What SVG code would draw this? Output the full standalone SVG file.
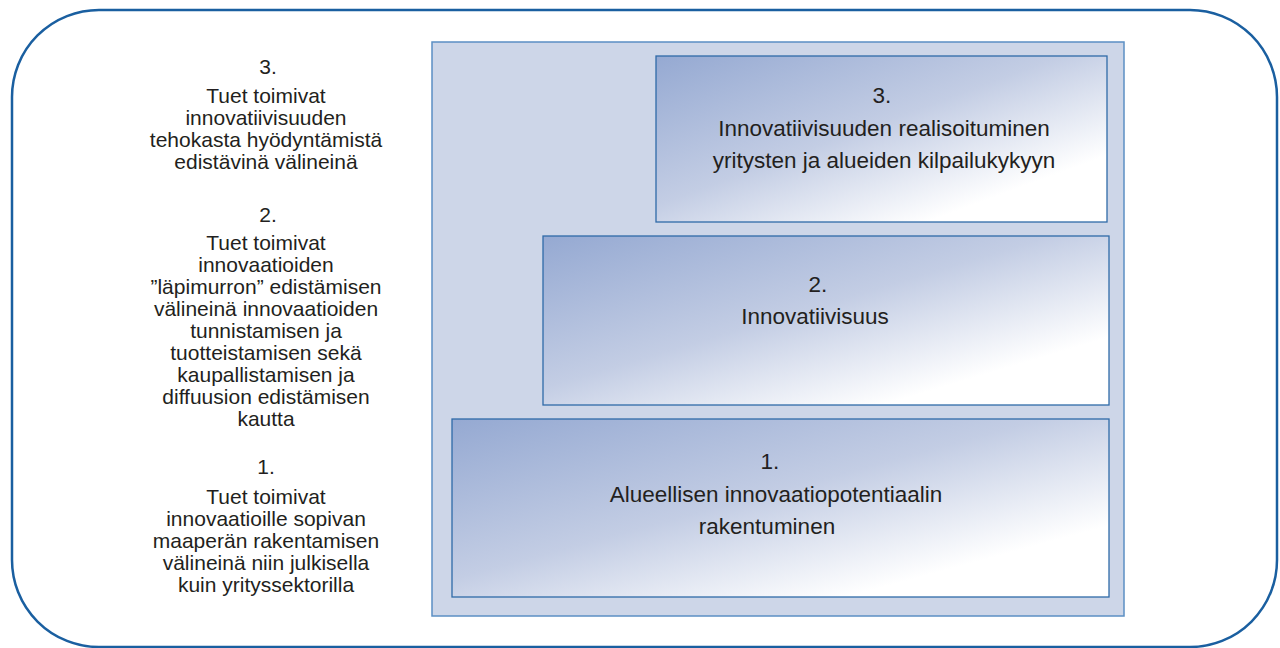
<svg xmlns="http://www.w3.org/2000/svg" width="1280" height="648" viewBox="0 0 1280 648">
<defs>
<linearGradient id="g" x1="0" y1="0" x2="1" y2="1">
<stop offset="0" stop-color="#95a9d2"/>
<stop offset="0.45" stop-color="#c3cde4"/>
<stop offset="0.8" stop-color="#ffffff"/>
<stop offset="1" stop-color="#ffffff"/>
</linearGradient>
<style>
text{font-family:"Liberation Sans",Arial,sans-serif;fill:#231f20;text-anchor:middle}
.l{font-size:21px}
.b{font-size:22.5px}
.box{fill:url(#g);stroke:#2f6aa8;stroke-width:1.3}
</style>
</defs>
<rect id="frame" x="12" y="10" width="1265" height="637" rx="87" ry="87" fill="#ffffff" stroke="#1a5fa0" stroke-width="2.5"/>
<rect id="panel" x="432" y="42" width="692" height="574" fill="#cdd6e8" stroke="#5b8fc4" stroke-width="1.5"/>
<g id="box3">
<rect class="box" x="656" y="56" width="451" height="166"/>
<text class="b" x="882" y="103">3.</text>
<text class="b" x="884" y="136">Innovatiivisuuden realisoituminen</text>
<text class="b" x="884" y="168">yritysten ja alueiden kilpailukykyyn</text>
</g>
<g id="box2">
<rect class="box" x="543" y="236" width="566" height="169"/>
<text class="b" x="818" y="292">2.</text>
<text class="b" x="815" y="324">Innovatiivisuus</text>
</g>
<g id="box1">
<rect class="box" x="452" y="419" width="657" height="178"/>
<text class="b" x="770" y="469">1.</text>
<text class="b" x="776" y="502">Alueellisen innovaatiopotentiaalin</text>
<text class="b" x="767" y="534">rakentuminen</text>
</g>
<g id="left3">
<text class="l" x="268" y="74">3.</text>
<text class="l" x="266" y="103">Tuet toimivat</text>
<text class="l" x="266" y="125">innovatiivisuuden</text>
<text class="l" x="266" y="147">tehokasta hyödyntämistä</text>
<text class="l" x="266" y="169">edistävinä välineinä</text>
</g>
<g id="left2">
<text class="l" x="268" y="222">2.</text>
<text class="l" x="266" y="250">Tuet toimivat</text>
<text class="l" x="266" y="272">innovaatioiden</text>
<text class="l" x="266" y="294">”läpimurron” edistämisen</text>
<text class="l" x="266" y="316">välineinä innovaatioiden</text>
<text class="l" x="266" y="338">tunnistamisen ja</text>
<text class="l" x="266" y="360">tuotteistamisen sekä</text>
<text class="l" x="266" y="382">kaupallistamisen ja</text>
<text class="l" x="266" y="404">diffuusion edistämisen</text>
<text class="l" x="266" y="426">kautta</text>
</g>
<g id="left1">
<text class="l" x="266" y="474">1.</text>
<text class="l" x="266" y="504">Tuet toimivat</text>
<text class="l" x="266" y="526">innovaatioille sopivan</text>
<text class="l" x="266" y="548">maaperän rakentamisen</text>
<text class="l" x="266" y="570">välineinä niin julkisella</text>
<text class="l" x="266" y="592">kuin yrityssektorilla</text>
</g>
<g id="connectors"/>
</svg>
